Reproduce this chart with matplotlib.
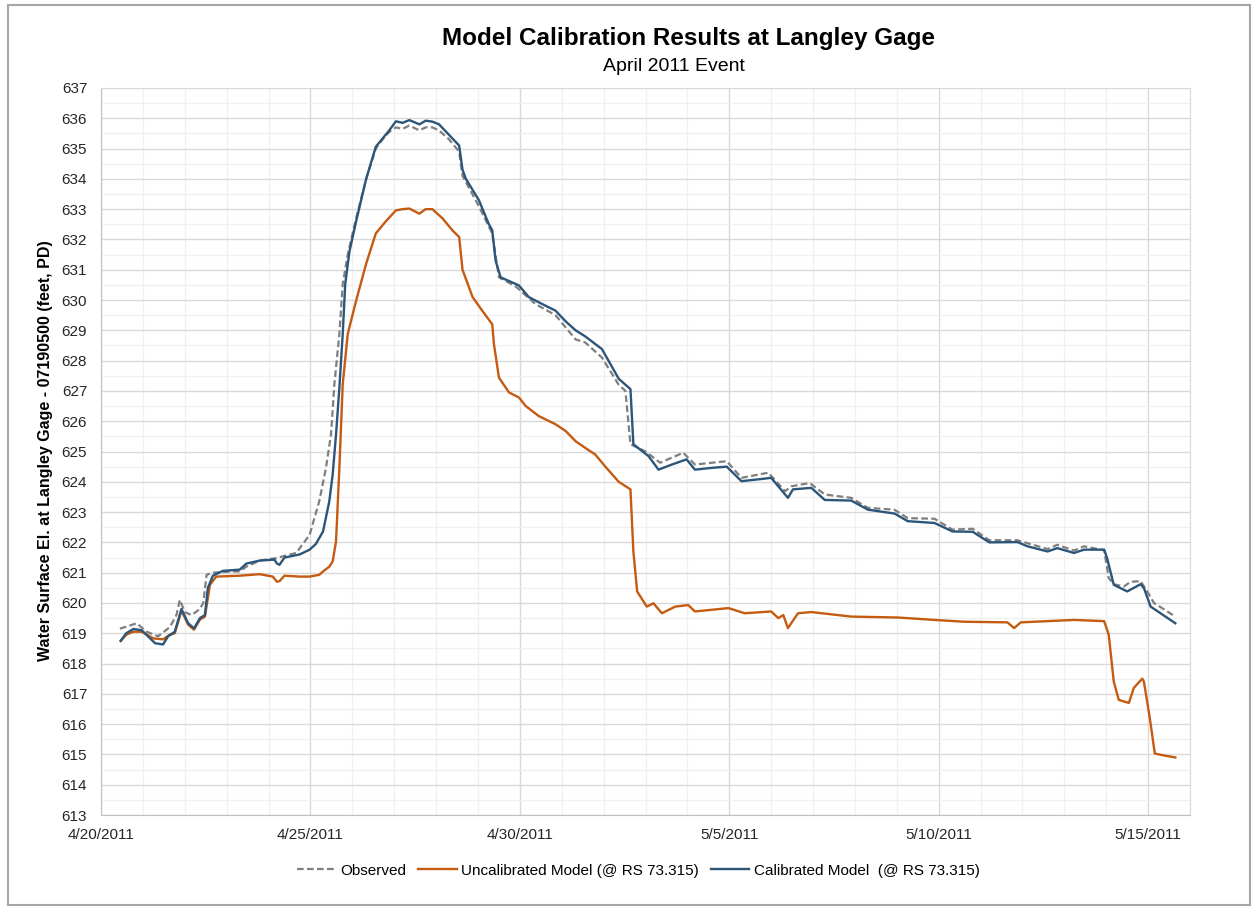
import numpy as np
import matplotlib
matplotlib.use("Agg")
import matplotlib.pyplot as plt
import matplotlib.dates as mdates
from matplotlib.patches import Rectangle

plt.rcParams['font.family'] = ['Liberation Sans', 'DejaVu Sans']

# days after 4/20/2011 00:00, water surface elevation (ft)
obs_days = [0.45, 0.85, 1.09, 1.36, 1.64, 1.8, 1.88, 2.0, 2.16, 2.36, 2.44, 2.52, 2.67, 3.15,
            3.31, 3.47, 3.79, 4.18, 4.34, 4.66, 4.98, 5.21, 5.37, 5.49, 5.57, 5.69, 5.77, 5.89,
            6.09, 6.33, 6.56, 6.72, 6.88, 7.04, 7.2, 7.36, 7.6, 7.75, 7.91, 8.07, 8.31, 8.55,
            8.63, 9.02, 9.34, 9.5, 9.9, 10.37, 10.85, 11.33, 11.56, 11.96, 12.36, 12.52, 12.64,
            13.0, 13.35, 13.9, 14.18, 14.94, 15.29, 15.93, 16.33, 16.48, 16.92, 17.28, 17.91,
            18.31, 18.94, 19.26, 19.9, 20.33, 20.81, 21.21, 21.88, 22.6, 22.83, 23.23, 23.47,
            23.95, 24.06, 24.18, 24.42, 24.58, 24.82, 24.98, 25.14, 25.65]
obs_wse = [619.15, 619.33, 619.05, 618.9, 619.2, 619.6, 620.1, 619.7, 619.6, 619.8, 620.0, 620.93,
           621.0, 621.04, 621.04, 621.2, 621.4, 621.48, 621.54, 621.65, 622.25, 623.36, 624.46,
           625.56, 627.22, 628.88, 630.53, 631.5, 632.7, 634.0, 635.0, 635.3, 635.55, 635.7,
           635.65, 635.76, 635.6, 635.7, 635.7, 635.6, 635.3, 634.9, 634.1, 633.1, 632.2, 630.75,
           630.45, 629.87, 629.5, 628.7, 628.6, 628.1, 627.2, 627.0, 625.24, 625.0, 624.63,
           624.96, 624.57, 624.68, 624.13, 624.3, 623.69, 623.85, 623.96, 623.58, 623.47, 623.14,
           623.08, 622.8, 622.78, 622.42, 622.45, 622.07, 622.07, 621.78, 621.92, 621.73, 621.87,
           621.74, 620.82, 620.62, 620.54, 620.7, 620.72, 620.38, 620.0, 619.55]

uncal_days = [0.47, 0.6, 0.77, 0.97, 1.25, 1.48, 1.64, 1.76, 1.92, 2.08, 2.22, 2.36, 2.48, 2.6,
              2.75, 3.31, 3.79, 4.1, 4.2, 4.26, 4.38, 4.74, 4.98, 5.21, 5.3, 5.45, 5.53, 5.61,
              5.69, 5.77, 5.89, 6.09, 6.33, 6.56, 6.8, 7.04, 7.2, 7.36, 7.6, 7.75, 7.91, 8.15,
              8.39, 8.55, 8.63, 8.87, 9.1, 9.34, 9.38, 9.5, 9.74, 9.98, 10.14, 10.45, 10.85,
              11.09, 11.33, 11.56, 11.8, 12.04, 12.36, 12.64, 12.71, 12.8, 13.03, 13.19, 13.39,
              13.71, 14.02, 14.18, 14.98, 15.37, 16.0, 16.17, 16.29, 16.4, 16.64, 16.96, 17.91,
              19.02, 19.9, 20.61, 21.64, 21.8, 21.96, 22.6, 23.23, 23.95, 24.06, 24.18, 24.3,
              24.54, 24.66, 24.86, 24.9, 25.04, 25.16, 25.36, 25.65]
uncal_wse = [618.75, 618.95, 619.05, 619.05, 618.83, 618.8, 618.95, 619.0, 619.75, 619.28, 619.12,
             619.45, 619.55, 620.6, 620.87, 620.9, 620.95, 620.87, 620.7, 620.72, 620.9, 620.87,
             620.87, 620.93, 621.04, 621.2, 621.37, 622.03, 624.46, 627.22, 628.88, 629.98,
             631.2, 632.2, 632.6, 632.96, 633.0, 633.02, 632.85, 633.0, 633.0, 632.7, 632.3,
             632.08, 631.0, 630.1, 629.65, 629.2, 628.55, 627.44, 626.95, 626.78, 626.5, 626.17,
             625.9, 625.68, 625.34, 625.12, 624.9, 624.5, 624.0, 623.75, 621.7, 620.38, 619.88,
             619.99, 619.66, 619.88, 619.93, 619.72, 619.83, 619.66, 619.72, 619.5, 619.6,
             619.17, 619.66, 619.7, 619.55, 619.52, 619.44, 619.38, 619.36, 619.17, 619.36,
             619.4, 619.44, 619.4, 618.95, 617.4, 616.8, 616.7, 617.2, 617.5, 617.4, 616.2,
             615.03, 614.97, 614.9]

cal_days = [0.47, 0.6, 0.77, 0.97, 1.09, 1.29, 1.48, 1.6, 1.76, 1.92, 2.08, 2.22, 2.36, 2.48,
            2.55, 2.67, 2.91, 3.31, 3.47, 3.79, 4.14, 4.2, 4.26, 4.38, 4.74, 4.98, 5.13, 5.3,
            5.45, 5.53, 5.61, 5.69, 5.77, 5.83, 5.93, 6.09, 6.33, 6.56, 6.72, 6.88, 7.04, 7.2,
            7.36, 7.6, 7.75, 7.91, 8.07, 8.31, 8.55, 8.63, 8.71, 9.02, 9.26, 9.34, 9.42, 9.54,
            9.98, 10.21, 10.53, 10.85, 11.09, 11.33, 11.56, 11.96, 12.36, 12.64, 12.71, 13.07,
            13.31, 13.63, 13.98, 14.18, 14.58, 14.94, 15.29, 15.69, 16.0, 16.4, 16.52, 16.96,
            17.28, 17.91, 18.31, 18.95, 19.26, 19.9, 20.33, 20.81, 21.21, 21.88, 22.12, 22.6,
            22.83, 23.23, 23.47, 23.95, 24.02, 24.18, 24.5, 24.82, 24.9, 25.06, 25.65]
cal_wse = [618.75, 619.0, 619.14, 619.1, 618.94, 618.67, 618.63, 618.9, 619.05, 619.8, 619.33,
           619.16, 619.5, 619.6, 620.5, 620.9, 621.06, 621.1, 621.3, 621.4, 621.43, 621.3,
           621.26, 621.5, 621.6, 621.76, 621.95, 622.36, 623.36, 624.24, 625.56, 627.1, 628.88,
           630.53, 631.6, 632.6, 634.0, 635.06, 635.33, 635.6, 635.9, 635.85, 635.94, 635.8,
           635.92, 635.89, 635.8, 635.45, 635.1, 634.3, 634.0, 633.3, 632.5, 632.3, 631.3,
           630.75, 630.48, 630.1, 629.87, 629.65, 629.3, 629.0, 628.8, 628.38, 627.4, 627.06,
           625.24, 624.85, 624.4, 624.57, 624.74, 624.4, 624.46, 624.5, 624.02, 624.08, 624.13,
           623.47, 623.75, 623.8, 623.4, 623.38, 623.08, 622.95, 622.7, 622.64, 622.36, 622.35,
           622.0, 622.01, 621.87, 621.7, 621.81, 621.65, 621.76, 621.76, 621.48, 620.6, 620.38,
           620.62, 620.49, 619.88, 619.33]

start = np.datetime64('2011-04-20T00:00')


def to_dates(days):
    return start + (np.array(days) * 86400).astype('timedelta64[s]')


fig = plt.figure(figsize=(12.57, 9.09), dpi=100)
ax = fig.add_axes([0.0804, 0.1034, 0.8663, 0.7998])

ax.plot(to_dates(obs_days), obs_wse, color='#7F7F7F', lw=1.6, ls=(0, (3, 1.5)),
        dash_joinstyle='round', label='Observed', zorder=3)
ax.plot(to_dates(uncal_days), uncal_wse, color='#C55A11', lw=1.7, solid_joinstyle='round',
        label='Uncalibrated Model (@ RS 73.315)', zorder=2)
ax.plot(to_dates(cal_days), cal_wse, color='#2B5579', lw=1.7, solid_joinstyle='round',
        label='Calibrated Model  (@ RS 73.315)', zorder=4)

ax.set_xlim(np.datetime64('2011-04-20'), np.datetime64('2011-05-16'))
ax.set_ylim(613, 637)
ax.set_yticks(np.arange(613, 638, 1))
ax.set_yticks(np.arange(613, 637, 0.5), minor=True)
ax.xaxis.set_major_locator(mdates.DayLocator(bymonthday=[20, 25, 30, 5, 10, 15]))
ax.xaxis.set_minor_locator(mdates.DayLocator())
ax.xaxis.set_major_formatter(
    plt.FuncFormatter(lambda v, p: (lambda d: f"{d.month}/{d.day}/{d.year}")(mdates.num2date(v))))

ax.grid(True, which='major', color='#D9D9D9', lw=1.0)
ax.grid(True, which='minor', color='#F0F0F0', lw=1.0)
ax.set_axisbelow(True)
for s in ax.spines.values():
    s.set_color('#D9D9D9')
ax.spines['left'].set_color('#BFBFBF')
ax.spines['bottom'].set_color('#BFBFBF')
ax.tick_params(which='both', length=0)
ax.tick_params(axis='y', labelsize=11, pad=10, labelcolor='#262626')
ax.tick_params(axis='x', labelsize=11, pad=9, labelcolor='#262626')

fig.text(0.036, 0.504, 'Water Surface El. at Langley Gage - 07190500 (feet, PD)',
         rotation=90, ha='center', va='center', fontsize=11.5, fontweight='bold')
fig.text(0.548, 0.958, 'Model Calibration Results at Langley Gage', ha='center', va='center',
         fontsize=17.5, fontweight='bold')
fig.text(0.536, 0.927, 'April 2011 Event', ha='center', va='center', fontsize=14)

fig.legend(loc='center', bbox_to_anchor=(0.508, 0.042), ncol=3, frameon=False, fontsize=11,
           handlelength=2.5, handletextpad=0.3, columnspacing=0.8)

fig.patches.append(Rectangle((8 / 1257, 4 / 909), 1242 / 1257, 900 / 909, transform=fig.transFigure,
                             fill=False, edgecolor='#A6A6A6', lw=1.5))

fig.savefig('out.png', dpi=100)
